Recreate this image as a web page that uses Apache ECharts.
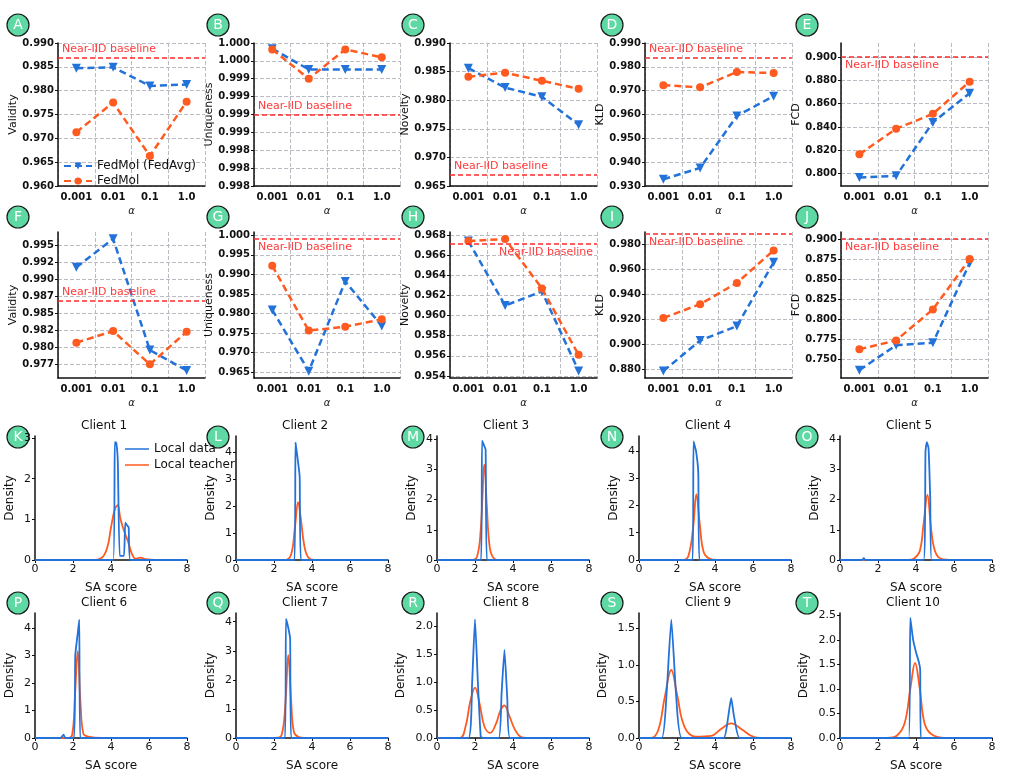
<!DOCTYPE html>
<html><head><meta charset="utf-8">
<script src="https://cdn.jsdelivr.net/npm/echarts@6/dist/echarts.min.js"></script>
<style>html,body{margin:0;padding:0;background:#fff}#c{width:1013px;height:779px}</style>
</head><body><div id="c"></div>
<script>
const alphas = ['0.001','0.01','0.1','1.0'];
// Line-plot panels A-J
const A_blue=[0.9847,0.9849,0.9810,0.9813], A_orange=[0.9713,0.9775,0.9663,0.9777];
const B_blue=[0.99992,0.99963,0.99963,0.99963], B_orange=[0.99991,0.99950,0.99991,0.99980];
const C_blue=[0.9856,0.9822,0.9806,0.9757], C_orange=[0.9841,0.9848,0.9834,0.9820];
const D_blue=[0.9328,0.9376,0.9594,0.9677], D_orange=[0.9723,0.9714,0.9778,0.9774];
const E_blue=[0.7968,0.7982,0.8440,0.8690], E_orange=[0.8166,0.8385,0.8513,0.8789];
const F_blue=[0.9918,0.9960,0.9796,0.9766], F_orange=[0.9807,0.9824,0.9775,0.9823];
const G_blue=[0.9809,0.9652,0.9882,0.9768], G_orange=[0.9922,0.9756,0.9766,0.9785];
const H_blue=[0.9674,0.9610,0.9624,0.9545], H_orange=[0.9674,0.9676,0.9627,0.9561];
const I_blue=[0.8785,0.9030,0.9145,0.9655], I_orange=[0.9210,0.9320,0.9490,0.9750];
const J_blue=[0.7370,0.7680,0.7710,0.8700], J_orange=[0.7630,0.7740,0.8125,0.8750];
const baselines=[0.987,0.999,0.967,0.984,0.900,0.9869,0.99907,0.9671,0.9885,0.900];
const ticksA=[0.960,0.965,0.970,0.975,0.980,0.985,0.990];
const ticksB=[0.998,0.99825,0.9985,0.99875,0.999,0.99925,0.9995,0.99975,1.000];
const labelsB=['0.998','0.998','0.998','0.999','0.999','0.999','0.999','1.000','1.000'];
const ticksC=[0.965,0.970,0.975,0.980,0.985,0.990];
const ticksD=[0.930,0.940,0.950,0.960,0.970,0.980,0.990];
const ticksE=[0.800,0.820,0.840,0.860,0.880,0.900];
const ticksF=[0.9775,0.980,0.9825,0.985,0.9875,0.990,0.9925,0.995];
const labelsF=['0.977','0.980','0.982','0.985','0.987','0.990','0.992','0.995'];
const ticksG=[0.965,0.970,0.975,0.980,0.985,0.990,0.995,1.000];
const ticksH=[0.954,0.956,0.958,0.960,0.962,0.964,0.966,0.968];
const ticksI=[0.880,0.900,0.920,0.940,0.960,0.980];
const ticksJ=[0.750,0.775,0.800,0.825,0.850,0.875,0.900];

// Density panels (SA score, density)
const dens_blue=[
 [[0,0],[4.12,0],[4.2,2.9],[4.28,2.88],[4.36,2.4],[4.46,0.1],[4.68,0.1],[4.75,0.92],[4.85,0.85],[4.93,0.8],[5.02,0],[8,0]],
 [[0,0],[3.08,0],[3.13,4.35],[3.2,4.0],[3.35,3.1],[3.42,0],[8,0]],
 [[0,0],[2.32,0],[2.37,3.95],[2.47,3.8],[2.56,3.65],[2.63,0],[8,0]],
 [[0,0],[2.82,0],[2.87,4.35],[3.0,4.0],[3.12,3.2],[3.18,0],[8,0]],
 [[0,0],[1.15,0],[1.25,0.06],[1.35,0],[4.4,0],[4.5,3.6],[4.57,3.9],[4.66,3.7],[4.75,2.0],[4.82,0],[8,0]],
 [[0,0],[1.35,0],[1.5,0.12],[1.6,0],[2.05,0],[2.12,3.0],[2.25,3.8],[2.33,4.3],[2.38,0],[8,0]],
 [[0,0],[2.58,0],[2.63,4.1],[2.75,3.8],[2.85,3.4],[2.9,0],[8,0]],
 [[0,0],[1.65,0],[1.85,1.0],[2.0,2.12],[2.15,1.0],[2.3,0.03],[2.4,0],[3.25,0],[3.4,0.8],[3.55,1.57],[3.7,0.7],[3.85,0],[8,0]],
 [[0,0],[1.2,0],[1.45,0.6],[1.7,1.62],[1.95,0.6],[2.25,0],[4.45,0],[4.7,0.3],[4.85,0.55],[5.0,0.3],[5.3,0],[8,0]],
 [[0,0],[3.62,0],[3.7,2.45],[3.85,2.0],[4.0,1.75],[4.15,1.55],[4.22,1.4],[4.25,0],[8,0]]
];
const dens_orange=[
 [[0,0],[3,0],[3.5,0.05],[3.8,0.3],[4.0,0.8],[4.2,1.25],[4.35,1.35],[4.5,1.0],[4.7,0.7],[4.9,0.45],[5.1,0.15],[5.3,0.03],[5.55,0.06],[5.8,0.02],[6.3,0],[8,0]],
 [[0,0],[2.6,0],[2.9,0.2],[3.1,1.2],[3.27,2.15],[3.4,1.6],[3.6,0.5],[3.8,0.1],[4.1,0],[8,0]],
 [[0,0],[1.8,0],[2.1,0.1],[2.3,1.0],[2.5,3.15],[2.62,1.8],[2.78,0.4],[3.0,0.05],[3.3,0],[8,0]],
 [[0,0],[2.3,0],[2.6,0.15],[2.85,1.2],[3.02,2.42],[3.2,1.3],[3.4,0.3],[3.7,0.05],[4.1,0],[8,0]],
 [[0,0],[3.6,0],[3.9,0.05],[4.2,0.3],[4.4,1.2],[4.6,2.15],[4.8,1.0],[5.0,0.3],[5.3,0.05],[6,0],[8,0]],
 [[0,0],[1.7,0],[1.95,0.1],[2.1,1.5],[2.25,3.15],[2.4,1.2],[2.55,0.15],[2.8,0.05],[3.5,0],[8,0]],
 [[0,0],[2.1,0],[2.4,0.1],[2.6,1.2],[2.75,2.85],[2.9,1.3],[3.05,0.2],[3.3,0.03],[3.6,0],[8,0]],
 [[0,0],[1.2,0],[1.5,0.2],[1.75,0.65],[2.0,0.9],[2.25,0.6],[2.5,0.2],[2.8,0.09],[3.1,0.25],[3.35,0.5],[3.55,0.58],[3.8,0.4],[4.1,0.15],[4.4,0.02],[4.7,0],[8,0]],
 [[0,0],[0.6,0],[1.0,0.1],[1.35,0.55],[1.7,0.93],[2.0,0.6],[2.4,0.15],[3.0,0.02],[3.8,0.03],[4.3,0.12],[4.85,0.2],[5.4,0.12],[5.9,0.03],[6.3,0],[8,0]],
 [[0,0],[2.5,0],[3.0,0.05],[3.4,0.3],[3.7,1.0],[3.95,1.53],[4.2,1.0],[4.45,0.3],[4.8,0.08],[5.5,0],[8,0]]
];
const dens_max=[3.05,4.6,4.1,4.55,4.1,4.54,4.3,2.23,1.71,2.55];
const dens_ticks=[[0,1,2,3],[0,1,2,3,4],[0,1,2,3,4],[0,1,2,3,4],[0,1,2,3,4],[0,1,2,3,4],[0,1,2,3,4],[0,0.5,1,1.5,2],[0,0.5,1,1.5],[0,0.5,1,1.5,2,2.5]];
const clients=['Client 1','Client 2','Client 3','Client 4','Client 5','Client 6','Client 7','Client 8','Client 9','Client 10'];
const letters='ABCDEFGHIJKLMNOPQRST'.split('');

const BLUE='#2272d9', ORANGE='#ff5a1f', RED='#ff2a2a', F='DejaVu Sans';
const panels=[
 {y:'Validity',b:A_blue,o:A_orange,min:0.960,max:0.990,t:ticksA,pos:'insideStartTop'},
 {y:'Uniqueness',b:B_blue,o:B_orange,min:0.998,max:1.000,t:ticksB,l:labelsB,pos:'insideStartTop'},
 {y:'Novelty',b:C_blue,o:C_orange,min:0.965,max:0.990,t:ticksC,pos:'insideStartTop'},
 {y:'KLD',b:D_blue,o:D_orange,min:0.930,max:0.990,t:ticksD,pos:'insideStartTop'},
 {y:'FCD',b:E_blue,o:E_orange,min:0.7895,max:0.912,t:ticksE,pos:'insideStartBottom'},
 {y:'Validity',b:F_blue,o:F_orange,min:0.97549,max:0.99701,t:ticksF,l:labelsF,pos:'insideStartTop'},
 {y:'Uniqueness',b:G_blue,o:G_orange,min:0.96347,max:1.00085,t:ticksG,pos:'insideStartBottom'},
 {y:'Novelty',b:H_blue,o:H_orange,min:0.9538,max:0.9683,t:ticksH,pos:'insideEndBottom'},
 {y:'KLD',b:I_blue,o:I_orange,min:0.873,max:0.9897,t:ticksI,pos:'insideStartBottom'},
 {y:'FCD',b:J_blue,o:J_orange,min:0.7273,max:0.9087,t:ticksJ,pos:'insideStartBottom'}
];
const colL=[58,254,450,645,841], colR=[205,400,597,792,988];
const dL=[35,236,437,639,840], dR=[187,388,589,791,992];
const rowT=[43,232], rowB=[186,378], dT=[436,613], dB=[560,738];
const letterX=[18,218,413,612,807], letterY=[25,217,437,603];

const grid=[],xAxis=[],yAxis=[],series=[],graphic=[];
const axisTxt={color:'#111',fontFamily:F,fontSize:10,fontWeight:'bold'};
panels.forEach((p,i)=>{
  const c=i%5,r=Math.floor(i/5);
  grid.push({left:colL[c],top:rowT[r],width:colR[c]-colL[c],height:rowB[r]-rowT[r]});
  xAxis.push({gridIndex:i,type:'category',data:alphas,boundaryGap:true,name:'α',nameLocation:'middle',nameGap:20,
    nameTextStyle:{fontFamily:F,fontSize:10,fontStyle:'italic',color:'#111'},
    axisLine:{lineStyle:{color:'#111',width:1.5}},axisTick:{show:false},axisLabel:Object.assign({margin:6,interval:0},axisTxt),
    splitLine:{show:true,interval:0,lineStyle:{type:'dashed',color:'#bbbbc4'}}});
  const labs=p.l||p.t.map(v=>v.toFixed(3));
  yAxis.push({gridIndex:i,type:'value',min:p.min,max:p.max,name:p.y,nameLocation:'middle',nameGap:34,
    nameTextStyle:{fontFamily:F,fontSize:11,color:'#111'},
    axisLine:{show:true,lineStyle:{color:'#111',width:1.5}},
    axisTick:{show:true,customValues:p.t,length:3,lineStyle:{color:'#111'}},
    axisLabel:Object.assign({customValues:p.t,margin:4,formatter:v=>{let k=0,d=1;p.t.forEach((t,j)=>{if(Math.abs(t-v)<d){d=Math.abs(t-v);k=j}});return labs[k];}},axisTxt),
    splitLine:{show:true,lineStyle:{type:'dashed',color:'#bbbbc4'}}});
  series.push({type:'line',name:'FedMol (FedAvg)',xAxisIndex:i,yAxisIndex:i,data:p.b,symbol:'triangle',symbolRotate:180,symbolSize:9,
    lineStyle:{color:BLUE,width:2.5,type:[7,4]},itemStyle:{color:BLUE},z:3,
    markLine:{silent:true,symbol:'none',precision:6,data:[{yAxis:baselines[i]}],lineStyle:{color:RED,type:[5,3],width:1.5},
      label:{show:true,position:p.pos,formatter:'Near-IID baseline',color:'#ff3b3b',fontFamily:F,fontSize:11,distance:[4,3]}}});
  series.push({type:'line',name:'FedMol',xAxisIndex:i,yAxisIndex:i,data:p.o,symbol:'circle',symbolSize:8,
    lineStyle:{color:ORANGE,width:2.5,type:[7,4]},itemStyle:{color:ORANGE},z:4});
});
clients.forEach((cl,k)=>{
  const i=10+k,c=k%5,r=Math.floor(k/5);
  grid.push({left:dL[c],top:dT[r],width:dR[c]-dL[c],height:dB[r]-dT[r]});
  xAxis.push({gridIndex:i,type:'value',min:0,max:8,interval:2,name:'SA score',nameLocation:'middle',nameGap:22,
    nameTextStyle:{fontFamily:F,fontSize:12,color:'#111'},
    axisLine:{lineStyle:{color:'#111',width:1.5}},axisTick:{show:true,length:3,lineStyle:{color:'#111'}},
    axisLabel:{color:'#111',fontFamily:F,fontSize:11,margin:4},splitLine:{show:false}});
  const t=dens_ticks[k];
  yAxis.push({gridIndex:i,type:'value',min:0,max:dens_max[k],name:'Density',nameLocation:'middle',nameGap:k>=7?30:19,
    nameTextStyle:{fontFamily:F,fontSize:12,color:'#111'},
    axisLine:{show:true,lineStyle:{color:'#111',width:1.5}},
    axisTick:{show:true,customValues:t,length:3,lineStyle:{color:'#111'}},
    axisLabel:{customValues:t,color:'#111',fontFamily:F,fontSize:11,margin:4,formatter:v=>k>=7?v.toFixed(1):String(Math.round(v))},
    splitLine:{show:false}});
  series.push({type:'line',name:'Local data',xAxisIndex:i,yAxisIndex:i,data:dens_blue[k],symbol:'none',smooth:0.15,
    lineStyle:{color:BLUE,width:1.8},itemStyle:{color:BLUE},z:3});
  series.push({type:'line',name:'Local teacher',xAxisIndex:i,yAxisIndex:i,data:dens_orange[k],symbol:'none',smooth:0.4,
    lineStyle:{color:ORANGE,width:1.8},itemStyle:{color:ORANGE},z:2});
  graphic.push({type:'text',left:(dL[c]+dR[c])/2-30,top:dT[r]-16,style:{text:cl,font:'12px "DejaVu Sans"',fill:'#111'}});
});
letters.forEach((L,j)=>{
  const c=j%5,r=Math.floor(j/5);
  graphic.push({type:'group',x:letterX[c],y:letterY[r],children:[
    {type:'circle',shape:{cx:0,cy:0,r:11},style:{fill:'#5fd9a3',stroke:'#1a1a1a',lineWidth:1.2}},
    {type:'text',style:{text:L,x:0,y:0,align:'center',verticalAlign:'middle',font:'14px "DejaVu Sans"',fill:'#fff'}}]});
});
const chart=echarts.init(document.getElementById('c'));
chart.setOption({animation:false,grid,xAxis,yAxis,series,graphic,
  legend:[
   {data:['FedMol (FedAvg)','FedMol'],left:58,top:155,orient:'vertical',itemGap:3,itemWidth:28,itemHeight:9,
    textStyle:{fontFamily:F,fontSize:12,color:'#111'}},
   {data:['Local data','Local teacher'],left:120,top:438,orient:'vertical',itemGap:4,itemWidth:24,itemHeight:8,icon:'path://M0,4L24,4L24,5.5L0,5.5Z',
    textStyle:{fontFamily:F,fontSize:12,color:'#111'}}
  ]});
</script></body></html>
